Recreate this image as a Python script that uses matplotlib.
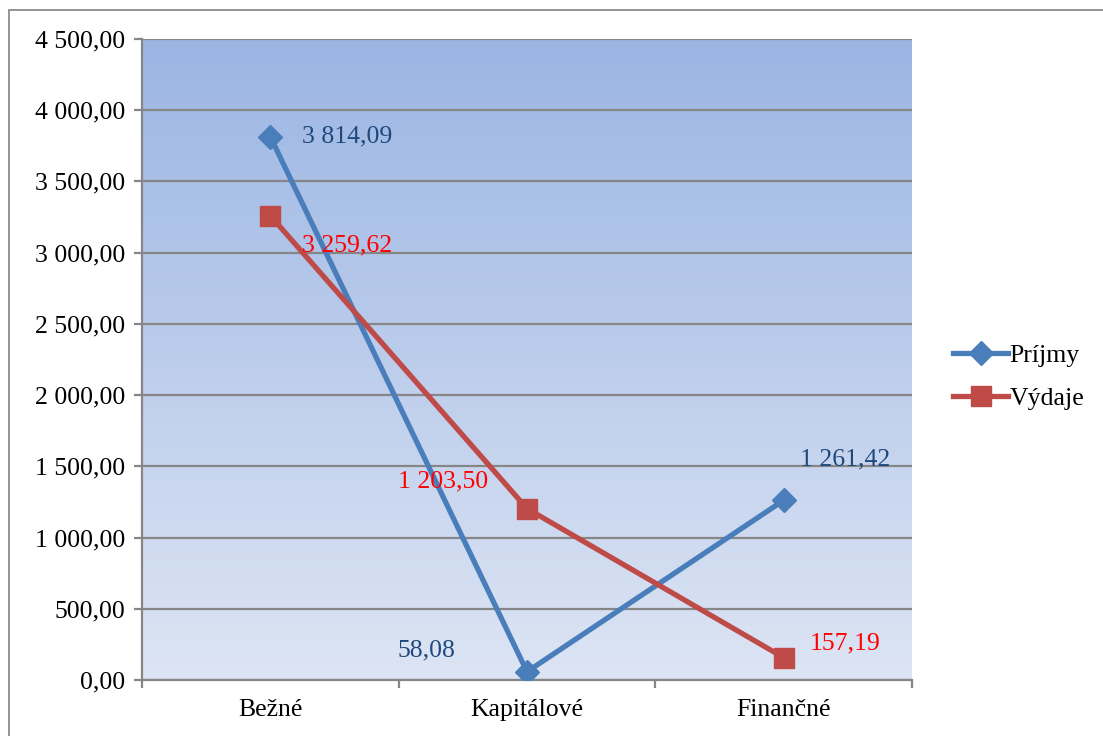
import numpy as np
import matplotlib.pyplot as plt
from matplotlib.patches import Rectangle
from matplotlib.colors import LinearSegmentedColormap

# data
categories = ['Bežné', 'Kapitálové', 'Finančné']
prijmy = [3814.09, 58.08, 1261.42]
vydaje = [3259.62, 1203.50, 157.19]
yticks = [0, 500, 1000, 1500, 2000, 2500, 3000, 3500, 4000, 4500]


def sk(v):
    s = f"{v:,.2f}"
    return s.replace(',', ' ').replace('.', ',')


plt.rcParams['font.family'] = ['Liberation Serif', 'DejaVu Serif']
W, H = 1103, 736
fig = plt.figure(figsize=(W / 100, H / 100), dpi=100)
ax = fig.add_axes([142 / W, 1 - 680 / H, 770 / W, 641 / H])

# outer chart frame
fig.patches.append(Rectangle((9 / W, -0.1), 1.2, 1 - 10 / H + 0.1, transform=fig.transFigure,
                             fill=False, edgecolor='#8c8c8c', lw=1.3, clip_on=False))

x = np.arange(len(categories))
ax.set_xlim(-0.5, len(categories) - 0.5)
ax.set_ylim(0, 4500)

# gradient background
cmap = LinearSegmentedColormap.from_list('bg', ['#dde5f4', '#9bb5e3'])
grad = np.linspace(0, 1, 256).reshape(-1, 1)
ax.imshow(grad, cmap=cmap, aspect='auto', extent=(-0.5, 2.5, 0, 4500), origin='lower', zorder=0)

for t in yticks:
    ax.axhline(t, color='#868686', lw=1.6, zorder=1)

ax.plot(x, prijmy, color='#4a7ebb', lw=3.8, marker='D', ms=12.5, zorder=3, label='Príjmy')
ax.plot(x, vydaje, color='#be4b48', lw=3.8, marker='s', ms=14, zorder=3, label='Výdaje')

fs = 18.5
blue_txt = '#1f497d'
ax.annotate(sk(prijmy[0]), (x[0], prijmy[0]), xytext=(32, 0), textcoords='offset pixels',
            ha='left', va='center', fontsize=fs, color=blue_txt)
ax.annotate(sk(prijmy[1]), (x[1], prijmy[1]), xytext=(-72, 21), textcoords='offset pixels',
            ha='right', va='center', fontsize=fs, color=blue_txt)
ax.annotate(sk(prijmy[2]), (x[2], prijmy[2]), xytext=(16, 41), textcoords='offset pixels',
            ha='left', va='center', fontsize=fs, color=blue_txt)
ax.annotate(sk(vydaje[0]), (x[0], vydaje[0]), xytext=(32, -30), textcoords='offset pixels',
            ha='left', va='center', fontsize=fs, color='#ff0000')
ax.annotate(sk(vydaje[1]), (x[1], vydaje[1]), xytext=(-39, 27), textcoords='offset pixels',
            ha='right', va='center', fontsize=fs, color='#ff0000')
ax.annotate(sk(vydaje[2]), (x[2], vydaje[2]), xytext=(26, 14), textcoords='offset pixels',
            ha='left', va='center', fontsize=fs, color='#ff0000')

ax.set_yticks(yticks)
ax.set_yticklabels([sk(v) for v in yticks], fontsize=fs)
ax.set_xticks(x)
ax.set_xticklabels(categories, fontsize=fs)
ax.set_xticks([-0.5, 0.5, 1.5, 2.5], minor=True)
ax.tick_params(axis='x', which='major', length=0, pad=14)
ax.tick_params(axis='x', which='minor', length=6, width=1.6, color='#868686')
ax.tick_params(axis='y', length=6, width=1.6, color='#868686', pad=6)

for s in ['top', 'right']:
    ax.spines[s].set_visible(False)
for s in ['left', 'bottom']:
    ax.spines[s].set_color('#868686')
    ax.spines[s].set_linewidth(1.6)
    ax.spines[s].set_zorder(2)

leg = fig.legend(loc='center left', bbox_to_anchor=(930 / W, 1 - 377 / H), frameon=False,
                 fontsize=fs, handlelength=2.15, handletextpad=0.05, labelspacing=0.75)

fig.savefig('out.png', dpi=100)
